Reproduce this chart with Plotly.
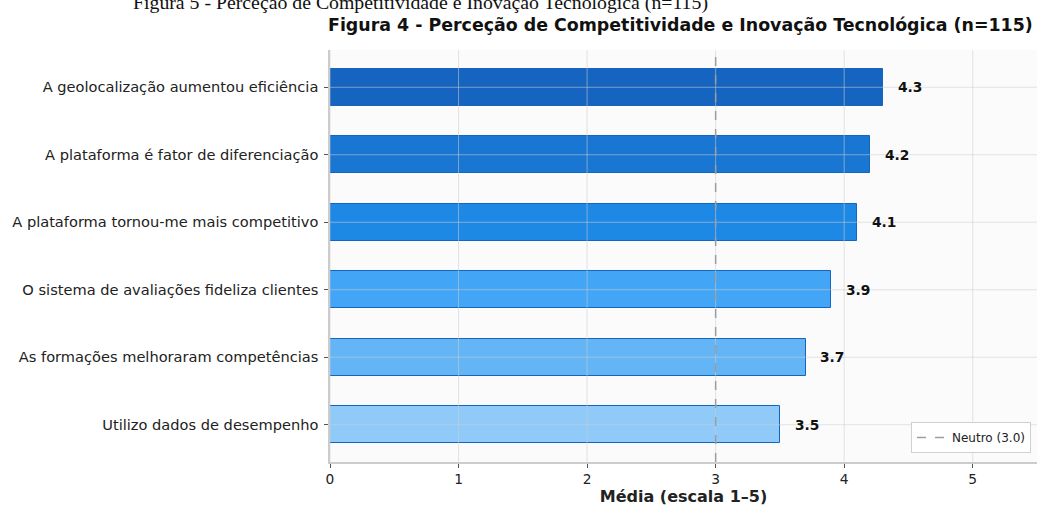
import plotly.graph_objects as go

categories = [
    "A geolocalização aumentou eficiência",
    "A plataforma é fator de diferenciação",
    "A plataforma tornou-me mais competitivo",
    "O sistema de avaliações fideliza clientes",
    "As formações melhoraram competências",
    "Utilizo dados de desempenho",
]
values = [4.3, 4.2, 4.1, 3.9, 3.7, 3.5]
colors = ["#1565C0", "#1976D2", "#1E88E5", "#42A5F5", "#64B5F6", "#90CAF9"]
x_ticks = [0, 1, 2, 3, 4, 5]
neutral = 3.0

W, H = 1043, 508
L, R, T, B = 330, 6, 50, 46
ph = H - T - B

def py(pix):
    return (H - B - pix) / ph

fig = go.Figure()
fig.add_trace(go.Bar(
    x=values, y=categories, orientation="h", width=0.55,
    marker=dict(color=colors, line=dict(color="#1565C0", width=1)),
    showlegend=False, hoverinfo="skip",
))

font = "DejaVu Sans, Verdana, sans-serif"
grid_col = "rgba(205,205,205,0.55)"
shapes = []
for t in x_ticks:
    shapes.append(dict(type="line", xref="x", yref="paper", x0=t, x1=t, y0=0, y1=1,
                       line=dict(color=grid_col, width=1), layer="above"))
for c in categories:
    shapes.append(dict(type="line", xref="paper", yref="y", x0=0, x1=1, y0=c, y1=c,
                       line=dict(color=grid_col, width=1), layer="above"))
shapes.append(dict(type="line", xref="x", yref="paper", x0=neutral, x1=neutral, y0=0, y1=1,
                   line=dict(color="#9e9e9e", width=1.5, dash="dash"), layer="above",
                   showlegend=True, name="Neutro (3.0)"))

annotations = []
for c, v in zip(categories, values):
    annotations.append(dict(x=v + 0.1, y=c, xref="x", yref="y", text=f"<b>{v:.1f}</b>",
                            showarrow=False, xanchor="left", yanchor="middle",
                            font=dict(family=font, size=13.8, color="#111")))
annotations.append(dict(x=680 / W, y=py(25), xref="paper", yref="paper",
                        xanchor="center", yanchor="middle", showarrow=False,
                        text="<b>Figura 4 - Perceção de Competitividade e Inovação Tecnológica (n=115)</b>",
                        font=dict(family=font, size=17.4, color="#111")))
annotations.append(dict(x=420 / W, y=py(3), xref="paper", yref="paper",
                        xanchor="center", yanchor="middle", showarrow=False,
                        text="Figura 5 - Perceção de Competitividade e Inovação Tecnológica (n=115)",
                        font=dict(family="Liberation Serif, Times New Roman, serif", size=19.8, color="#111")))
for a in annotations[-2:]:
    a["x"] = (a["x"] * W - L) / (W - L - R)

fig.update_layout(
    width=W, height=H,
    margin=dict(l=L, r=R, t=T, b=B, autoexpand=False),
    paper_bgcolor="white", plot_bgcolor="#fbfbfb",
    font=dict(family=font, size=13, color="#222"),
    shapes=shapes, annotations=annotations,
    bargap=0,
    legend=dict(x=(1031 - L) / (W - L - R), y=py(453), xanchor="right", yanchor="bottom",
                bgcolor="white", bordercolor="#d0d0d0", borderwidth=1,
                tracegroupgap=0, itemwidth=30,
                font=dict(family=font, size=12, color="#222")),
    xaxis=dict(range=[0, 5.5], tickvals=x_ticks, showgrid=False, zeroline=False,
               showline=True, linecolor="#cccccc", linewidth=1.5,
               ticks="outside", ticklen=4, tickcolor="#555", tickfont=dict(size=13.8),
               title=dict(text="<b>Média (escala 1–5)</b>", font=dict(size=16), standoff=4)),
    yaxis=dict(type="category", categoryorder="array", categoryarray=categories,
               range=[len(categories) - 1 + 0.5525, -0.5525], showgrid=False, zeroline=False,
               showline=True, linecolor="#cccccc", linewidth=1.5,
               ticks="outside", ticklen=4, tickcolor="#555", tickfont=dict(size=14.6),
               ticklabelstandoff=3),
)
fig.write_html("out.html", config={"displayModeBar": False},
               post_script="document.body.style.margin='0';")
